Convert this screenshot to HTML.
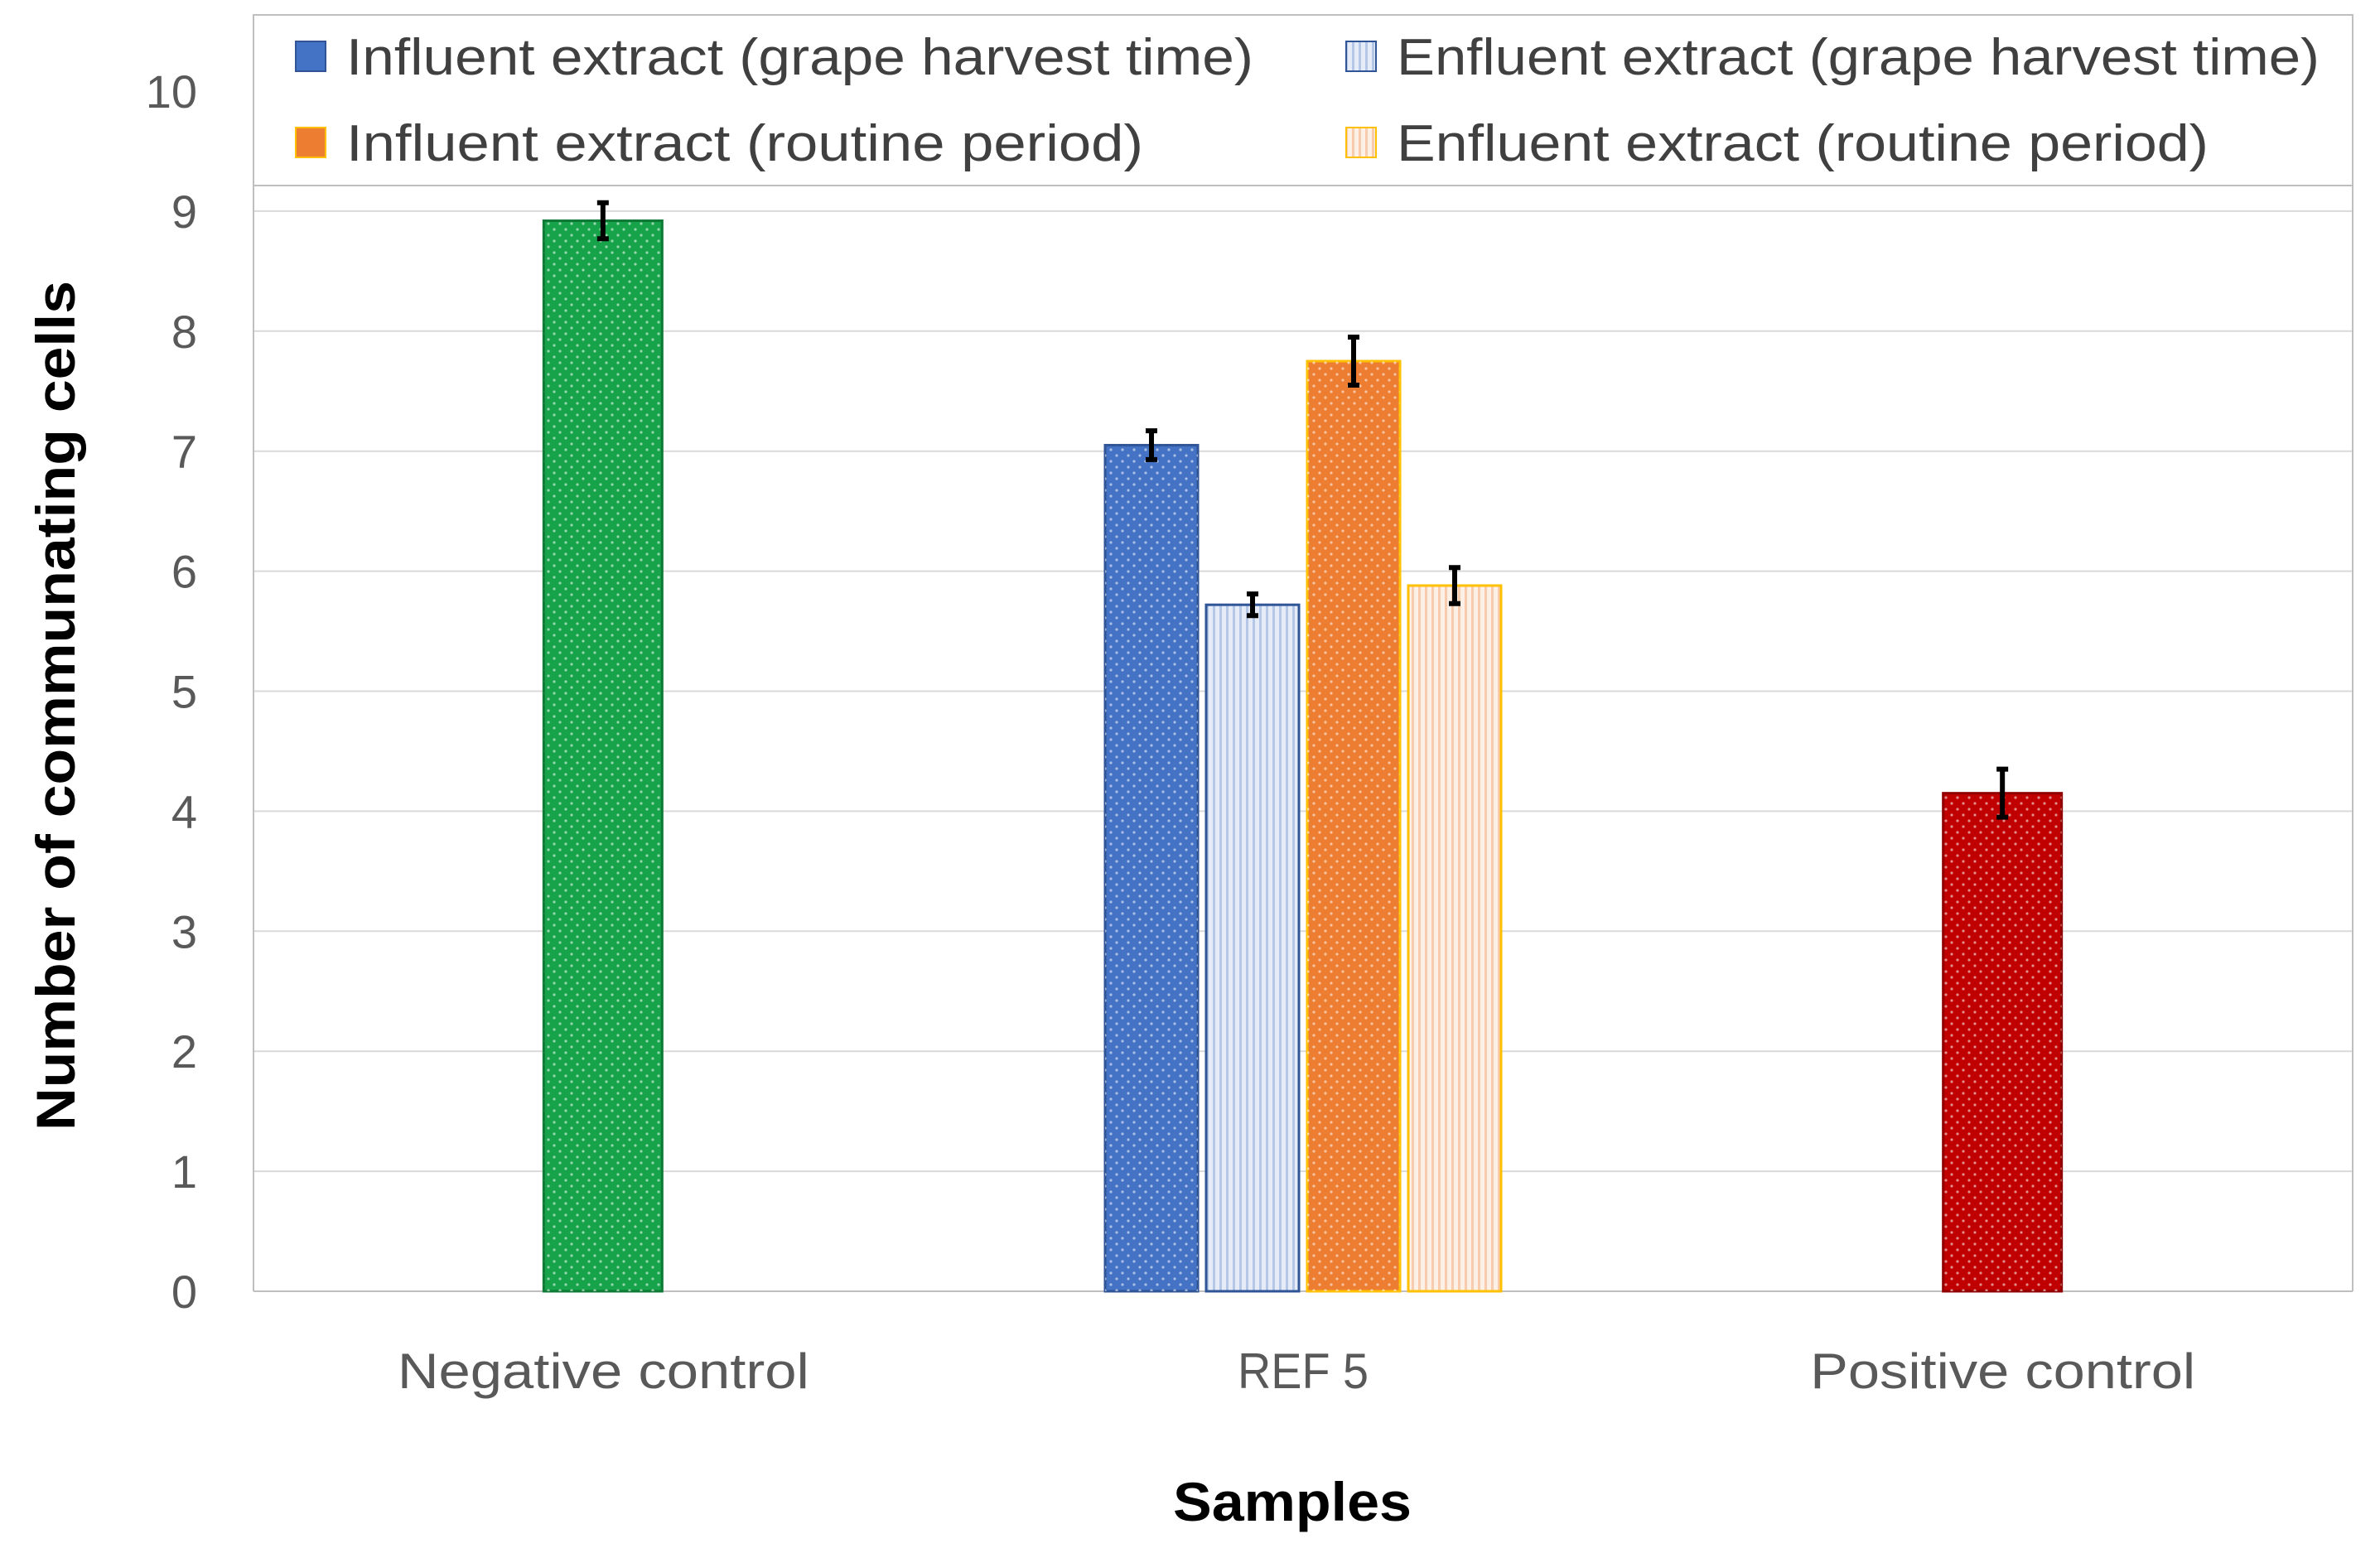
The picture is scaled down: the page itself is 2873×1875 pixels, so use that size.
<!DOCTYPE html>
<html><head><meta charset="utf-8"><style>
html,body{margin:0;padding:0;background:#fff;}
svg{display:block;font-family:"Liberation Sans",sans-serif;}
</style></head><body>
<svg id="chart" width="2873" height="1875" viewBox="0 0 2873 1875">
<defs>
<pattern id="dots" width="14" height="14" patternUnits="userSpaceOnUse"><circle cx="4" cy="4" r="1.6" fill="#fff" fill-opacity="0.55"/><circle cx="11" cy="11" r="1.6" fill="#fff" fill-opacity="0.55"/></pattern>
<pattern id="stripeB" width="8" height="8" patternUnits="userSpaceOnUse"><rect width="8" height="8" fill="#e6ecf7"/><rect x="0" width="3" height="8" fill="#b4c7e7"/></pattern>
<pattern id="stripeO" width="8" height="8" patternUnits="userSpaceOnUse"><rect width="8" height="8" fill="#fdf0e6"/><rect x="0" width="3" height="8" fill="#f8cbad"/></pattern>
</defs>
<g id="grid"></g>
<g id="bars"></g>
<g id="axes"></g>
<rect x="306" y="18" width="2534" height="206" fill="#fff" stroke="#bfbfbf" stroke-width="2"/>
<g font-size="62" fill="#404040">
<rect x="357" y="50" width="36" height="36" fill="#4472c4" stroke="#2f5597" stroke-width="2"/>
<text x="418" y="90" textLength="1095" lengthAdjust="spacingAndGlyphs">Influent extract (grape harvest time)</text>
<rect x="1625" y="50" width="36" height="36" fill="url(#stripeB)" stroke="#2f5597" stroke-width="2"/>
<text x="1686" y="90" textLength="1114" lengthAdjust="spacingAndGlyphs">Enfluent extract (grape harvest time)</text>
<rect x="357" y="154" width="36" height="36" fill="#ed7d31" stroke="#ffc000" stroke-width="2"/>
<text x="418" y="194" textLength="962" lengthAdjust="spacingAndGlyphs">Influent extract (routine period)</text>
<rect x="1625" y="154" width="36" height="36" fill="url(#stripeO)" stroke="#ffc000" stroke-width="2"/>
<text x="1686" y="194" textLength="980" lengthAdjust="spacingAndGlyphs">Enfluent extract (routine period)</text>
</g>
<text x="1560" y="1836" font-size="66" font-weight="bold" text-anchor="middle" textLength="288" lengthAdjust="spacingAndGlyphs" fill="#000">Samples</text>
<text transform="translate(90,852) rotate(-90)" font-size="66" font-weight="bold" text-anchor="middle" textLength="1026" lengthAdjust="spacingAndGlyphs" fill="#000">Number of communating cells</text>
</svg>
<script>
const categories = ["Negative control", "REF 5", "Positive control"];
const yTicks = [0,1,2,3,4,5,6,7,8,9,10];
const negValues = [8.92]; const negErr = [0.15];
const refValues = [7.05, 5.72, 7.75, 5.88]; const refErr = [0.12, 0.09, 0.2, 0.15];
const posValues = [4.15]; const posErr = [0.2];

const NS = "http://www.w3.org/2000/svg";
const L=306,R=2840,Y0=1559,Y10=110;
const labelLens=[497,158,465];
const y = v => Y0 - (Y0-Y10)*v/10;
const cx = i => L + (R-L)/3*(i+0.5);
function mk(tag, attrs, parent){const e=document.createElementNS(NS,tag);for(const k in attrs)e.setAttribute(k,attrs[k]);parent.appendChild(e);return e;}
const grid=document.getElementById('grid'), bars=document.getElementById('bars'), axes=document.getElementById('axes');
yTicks.forEach(t=>{
  if(t<10){const g=mk('line',{x1:L,x2:R,y1:y(t),y2:y(t),stroke:t===0?'#bfbfbf':'#d9d9d9','stroke-width':2},grid);
  
  }
  const tx=mk('text',{x:238,y:y(t)+20,'font-size':56,'text-anchor':'end',fill:'#595959'},axes);
  tx.textContent=t;
  
  
});
const pb=mk('line',{x1:L,x2:L,y1:18,y2:Y0,stroke:'#bfbfbf','stroke-width':2},axes);


const pr=mk('line',{x1:R,x2:R,y1:18,y2:Y0,stroke:'#bfbfbf','stroke-width':2},axes);


categories.forEach((c,i)=>{
  const t=mk('text',{x:cx(i),y:1676,'font-size':60,'text-anchor':'middle',fill:'#595959',textLength:labelLens[i],lengthAdjust:'spacingAndGlyphs'},axes);
  t.textContent=c;
  
  
});
function bar(x,w,v,e,fill,stroke,pat,name){
  const r=mk('rect',{x:x,y:y(v),width:w,height:Y0-y(v),fill:fill,stroke:stroke,'stroke-width':3},bars);
  
  
  if(pat){mk('rect',{x:x,y:y(v),width:w,height:Y0-y(v),fill:'url(#dots)'},bars);}
  const m=x+w/2;
  const eb=mk('path',{d:`M${m},${y(v+e)}V${y(v-e)}M${m-7},${y(v+e)}H${m+7}M${m-7},${y(v-e)}H${m+7}`,stroke:'#000','stroke-width':6,fill:'none'},bars);
  
  
}
bar(cx(0)-72,143,negValues[0],negErr[0],'#16a34a','#0f7a35',true,'bar-negative-control');
bar(cx(2)-72,143,posValues[0],posErr[0],'#c00000','#900000',true,'bar-positive-control');
const fills=['#4472c4','url(#stripeB)','#ed7d31','url(#stripeO)'];
const strokes=['#2f5597','#2f5597','#ffc000','#ffc000'];
const names=['bar-ref5-influent-harvest','bar-ref5-enfluent-harvest','bar-ref5-influent-routine','bar-ref5-enfluent-routine'];
const bw=112,gap=10,start=cx(1)-(4*bw+3*gap)/2;
refValues.forEach((v,k)=>bar(start+k*(bw+gap),bw,v,refErr[k],fills[k],strokes[k],k%2===0,names[k]));
</script>
</body></html>
